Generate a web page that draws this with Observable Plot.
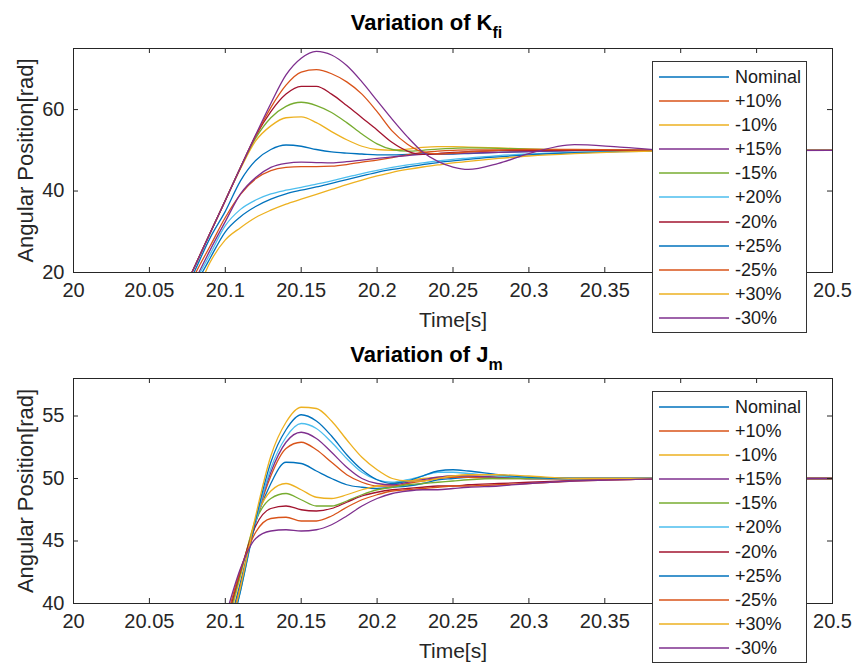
<!DOCTYPE html>
<html>
<head>
<meta charset="utf-8">
<script src="https://cdn.jsdelivr.net/npm/d3@7"></script>
<script src="https://cdn.jsdelivr.net/npm/@observablehq/plot@0.6"></script>
<style>
  html, body { margin: 0; padding: 0; background: #fff; }
  #wrap { position: relative; width: 853px; height: 663px; overflow: hidden; font-family: "Liberation Sans", Arial, Helvetica, sans-serif; }
  .panel { position: absolute; left: 0; }
  .panel svg { overflow: visible; }
  .title { position: absolute; left: 0; width: 853px; text-align: center; font-weight: bold; font-size: 22px; line-height: 22px; color: #000; white-space: nowrap; }
  .title .sub { font-size: 16px; position: relative; top: 8px; }
  .legend { position: absolute; box-sizing: border-box; background: #fff; border: 1px solid #333; padding-top: 3px; }
  .legend .row { position: relative; height: 24.1px; }
  .legend svg { position: absolute; left: 5px; top: 0; }
  .legend span { position: absolute; left: 82px; top: 0; line-height: 24.1px; font-size: 18px; color: #1a1a1a; }
</style>
</head>
<body>
<div id="wrap"></div>
<script>
// ---------- data ----------
const seriesNames = ["Nominal", "+10%", "-10%", "+15%", "-15%", "+20%", "-20%", "+25%", "-25%", "+30%", "-30%"];
const seriesColors = ["#0072BD", "#D95319", "#EDB120", "#7E2F8E", "#77AC30", "#4DBEEE", "#A2142F", "#0072BD", "#D95319", "#EDB120", "#7E2F8E"];

const xTicks = [20, 20.05, 20.1, 20.15, 20.2, 20.25, 20.3, 20.35, 20.4, 20.45, 20.5];
// tick labels visible in the figure (20.4 and 20.45 sit behind the legend)
const xTickLabels = [20, 20.05, 20.1, 20.15, 20.2, 20.25, 20.3, 20.35, 20.5];
const kfiYTicks = [20, 40, 60];
const jmYTicks = [40, 45, 50, 55];

// Variation of K_fi
const kfiTime = [20.07, 20.08, 20.09, 20.1, 20.11, 20.12, 20.13, 20.14, 20.15, 20.16, 20.17, 20.18, 20.19, 20.2, 20.21, 20.22, 20.23, 20.24, 20.25, 20.26, 20.28, 20.3, 20.33, 20.36, 20.4, 20.45, 20.5];
const kfiNominal = [12.5, 20.5, 28.5, 35.0, 42.5, 47.5, 50.2, 51.3, 51.0, 50.2, 49.6, 49.3, 49.1, 48.9, 48.9, 49.0, 49.1, 49.1, 49.1, 49.2, 49.5, 49.7, 49.9, 50.0, 50.0, 50.0, 50.0];
const kfiPlus10 = [11, 19.5, 26.5, 33.5, 39.2, 43.0, 45.0, 45.8, 46.0, 46.0, 46.1, 46.5, 47.1, 47.6, 48.2, 48.9, 49.5, 49.8, 50.0, 50.1, 50.1, 50.1, 50.0, 50.0, 50.0, 50.0, 50.0];
const kfiMinus10 = [13.6, 21.6, 29.7, 37.7, 45.5, 52.3, 56.0, 58.0, 58.2, 56.8, 54.6, 52.6, 51.0, 50.2, 50.0, 50.3, 50.7, 50.9, 50.9, 50.8, 50.6, 50.3, 50.1, 50.0, 50.0, 50.0, 50.0];
const kfiPlus15 = [10, 18.0, 25.5, 32.5, 39.3, 43.3, 45.8, 46.8, 47.1, 47.0, 46.9, 47.2, 47.6, 48.0, 48.4, 48.7, 49.0, 49.1, 49.2, 49.3, 49.5, 49.7, 49.9, 50.0, 50.0, 50.0, 50.0];
const kfiMinus15 = [13.6, 21.6, 29.7, 37.7, 45.8, 53.0, 58.0, 60.8, 61.8, 61.0, 59.3, 56.8, 54.0, 51.6, 50.2, 49.8, 50.0, 50.3, 50.5, 50.6, 50.5, 50.3, 50.1, 50.0, 50.0, 50.0, 50.0];
const kfiPlus20 = [9, 17.5, 24.5, 31.5, 35.5, 37.8, 39.3, 40.2, 40.9, 41.7, 42.5, 43.4, 44.3, 45.1, 45.8, 46.4, 46.9, 47.4, 47.8, 48.1, 48.7, 49.1, 49.5, 49.8, 50.0, 50.0, 50.0];
const kfiMinus20 = [13.6, 21.6, 29.7, 37.7, 45.8, 53.5, 59.5, 63.8, 65.7, 65.7, 63.8, 61.0, 58.0, 55.0, 51.9, 49.8, 49.0, 49.2, 49.5, 49.7, 49.9, 50.0, 50.0, 50.0, 50.0, 50.0, 50.0];
const kfiPlus25 = [8, 16.5, 23.5, 30.0, 33.7, 36.2, 38.0, 39.3, 40.2, 41.0, 41.9, 42.8, 43.7, 44.6, 45.3, 45.9, 46.5, 47.0, 47.4, 47.8, 48.4, 48.9, 49.4, 49.7, 49.9, 50.0, 50.0];
const kfiMinus25 = [13.6, 21.6, 29.7, 37.7, 45.8, 53.6, 60.5, 66.0, 69.2, 69.8, 68.8, 66.8, 63.8, 59.5, 54.7, 51.5, 49.6, 49.1, 49.3, 49.6, 50.0, 50.2, 50.2, 50.1, 50.0, 50.0, 50.0];
const kfiPlus30 = [5, 14, 22.5, 28.0, 31.0, 33.5, 35.3, 36.8, 38.0, 39.2, 40.4, 41.6, 42.7, 43.7, 44.6, 45.3, 45.9, 46.4, 46.9, 47.3, 48.0, 48.6, 49.2, 49.6, 49.9, 50.0, 50.0];
const kfiMinus30 = [13.6, 21.6, 29.7, 37.7, 45.8, 53.8, 61.5, 68.5, 72.6, 74.3, 73.4, 70.8, 66.8, 62.2, 57.6, 53.3, 49.6, 47.3, 45.9, 45.3, 46.8, 49.2, 51.4, 50.8, 49.9, 49.9, 50.0];

// Variation of J_m
const jmTime = [20.09, 20.1, 20.11, 20.12, 20.13, 20.14, 20.15, 20.16, 20.17, 20.18, 20.19, 20.2, 20.21, 20.22, 20.23, 20.24, 20.25, 20.26, 20.28, 20.3, 20.33, 20.36, 20.4, 20.45, 20.5];
const jmNominal = [32.5, 37.0, 41.7, 46.5, 49.6, 51.3, 51.2, 50.6, 50.0, 49.5, 49.3, 49.2, 49.3, 49.4, 49.6, 49.9, 50.0, 50.1, 50.1, 50.0, 50.0, 50.0, 50.0, 50.0, 50.0];
const jmPlus10 = [32.2, 36.7, 41.4, 46.5, 50.2, 52.4, 52.9, 52.3, 51.3, 50.3, 49.7, 49.4, 49.4, 49.6, 49.8, 50.0, 50.1, 50.1, 50.0, 50.0, 50.0, 50.0, 50.0, 50.0, 50.0];
const jmMinus10 = [33, 37.5, 42.2, 46.8, 49.0, 49.6, 49.1, 48.5, 48.4, 48.7, 49.1, 49.4, 49.6, 49.8, 50.0, 50.1, 50.2, 50.2, 50.1, 50.0, 50.0, 50.0, 50.0, 50.0, 50.0];
const jmPlus15 = [32, 36.5, 41.2, 46.6, 50.5, 52.9, 53.7, 53.2, 52.1, 50.9, 50.0, 49.6, 49.5, 49.7, 49.9, 50.1, 50.2, 50.2, 50.1, 50.0, 50.0, 50.0, 50.0, 50.0, 50.0];
const jmMinus15 = [33.3, 37.8, 42.4, 46.6, 48.4, 48.8, 48.3, 47.8, 47.8, 48.2, 48.7, 49.1, 49.3, 49.5, 49.6, 49.7, 49.8, 49.9, 50.0, 50.0, 50.0, 50.0, 50.0, 50.0, 50.0];
const jmPlus20 = [31.8, 36.3, 41.0, 46.5, 50.8, 53.3, 54.4, 54.0, 52.9, 51.6, 50.5, 49.9, 49.7, 49.9, 50.2, 50.5, 50.5, 50.4, 50.2, 50.1, 50.0, 50.0, 50.0, 50.0, 50.0];
const jmMinus20 = [33.6, 38.1, 42.6, 46.2, 47.6, 47.8, 47.5, 47.4, 47.6, 48.1, 48.6, 48.9, 49.1, 49.2, 49.3, 49.4, 49.4, 49.5, 49.6, 49.7, 49.85, 49.95, 50.0, 50.0, 50.0];
const jmPlus25 = [31.5, 36.2, 41.0, 46.7, 51.3, 53.9, 55.1, 54.6, 53.4, 51.9, 50.7, 49.9, 49.6, 49.8, 50.2, 50.6, 50.7, 50.6, 50.3, 50.1, 50.0, 50.0, 50.0, 50.0, 50.0];
const jmMinus25 = [34, 38.4, 42.7, 45.7, 46.8, 46.9, 46.6, 46.6, 47.0, 47.7, 48.3, 48.7, 49.0, 49.1, 49.2, 49.3, 49.4, 49.4, 49.5, 49.6, 49.8, 49.9, 50.0, 50.0, 50.0];
const jmPlus30 = [32, 36.5, 41.3, 47.0, 51.8, 54.5, 55.7, 55.6, 54.6, 53.1, 51.7, 50.7, 50.0, 49.8, 49.8, 50.0, 50.2, 50.3, 50.3, 50.2, 50.0, 50.0, 50.0, 50.0, 50.0];
const jmMinus30 = [34.5, 38.9, 42.8, 45.2, 45.8, 45.9, 45.8, 45.9, 46.3, 47.0, 47.8, 48.4, 48.8, 49.0, 49.1, 49.1, 49.2, 49.3, 49.4, 49.6, 49.8, 49.9, 50.0, 50.0, 50.0];

const kfiSeries = [kfiNominal, kfiPlus10, kfiMinus10, kfiPlus15, kfiMinus15, kfiPlus20, kfiMinus20, kfiPlus25, kfiMinus25, kfiPlus30, kfiMinus30];
const jmSeries = [jmNominal, jmPlus10, jmMinus10, jmPlus15, jmMinus15, jmPlus20, jmMinus20, jmPlus25, jmMinus25, jmPlus30, jmMinus30];

// ---------- drawing ----------
const FONT = '"Liberation Sans", Arial, Helvetica, sans-serif';
const INK = "#262626";
const wrap = document.getElementById("wrap");

function panel({time, series, yDomain, yTicks, top, height, marginTop, marginBottom}) {
  const marginLeft = 73, marginRight = 21, width = 853;
  const fh = height - marginTop - marginBottom;
  const fw = width - marginLeft - marginRight;
  const lines = series.map((vals, i) =>
    Plot.line(time.map((t, j) => ({t, v: vals[j]})), {
      x: "t", y: "v", stroke: seriesColors[i], strokeWidth: 1.3, curve: "monotone-x", clip: true
    })
  );
  const fmt = d => String(Math.round(d * 100) / 100);
  const svg = Plot.plot({
    width, height, marginLeft, marginRight, marginTop, marginBottom,
    style: {fontFamily: FONT, fontSize: "20px", color: INK, background: "transparent"},
    x: {domain: [20, 20.5]},
    y: {domain: yDomain},
    marks: [
      Plot.axisX(xTickLabels, {tickSize: 0, tickPadding: 10, tickFormat: fmt, fontSize: 20, label: null, fill: INK}),
      Plot.axisY(yTicks, {tickSize: 0, tickPadding: 9, tickFormat: fmt, fontSize: 20, label: null, fill: INK}),
      ...lines,
      Plot.tickX(xTicks, {x: d => d, insetTop: fh - 5, stroke: INK}),
      Plot.tickX(xTicks, {x: d => d, insetBottom: fh - 5, stroke: INK}),
      Plot.tickY(yTicks, {y: d => d, insetRight: fw - 5, stroke: INK}),
      Plot.tickY(yTicks, {y: d => d, insetLeft: fw - 5, stroke: INK}),
      Plot.frame({stroke: INK, strokeWidth: 1}),
      Plot.text(["Time[s]"], {frameAnchor: "bottom", dy: 54, fontSize: 21, fill: INK, textAnchor: "middle"}),
      Plot.text(["Angular Position[rad]"], {frameAnchor: "left", dx: -48, rotate: -90, fontSize: 22, fill: INK, textAnchor: "middle"})
    ]
  });
  const div = document.createElement("div");
  div.className = "panel";
  div.style.top = top + "px";
  div.appendChild(svg);
  wrap.appendChild(div);
}

function title(main, sub, top) {
  const d = document.createElement("div");
  d.className = "title";
  d.style.top = top + "px";
  d.innerHTML = main + '<span class="sub">' + sub + '</span>';
  wrap.appendChild(d);
}

function legend(top) {
  const box = document.createElement("div");
  box.className = "legend";
  box.style.left = "652px";
  box.style.top = top + "px";
  box.style.width = "155px";
  box.style.height = "272px";
  seriesNames.forEach((name, i) => {
    const row = document.createElement("div");
    row.className = "row";
    row.innerHTML = '<svg width="72" height="24"><line x1="1" x2="71" y1="12" y2="12" stroke="' + seriesColors[i] + '" stroke-width="1.3"/></svg><span>' + name + '</span>';
    box.appendChild(row);
  });
  wrap.appendChild(box);
}

panel({time: kfiTime, series: kfiSeries, yDomain: [20, 75], yTicks: kfiYTicks, top: 0, height: 340, marginTop: 48, marginBottom: 68});
panel({time: jmTime, series: jmSeries, yDomain: [40, 58], yTicks: jmYTicks, top: 330, height: 333, marginTop: 48, marginBottom: 60});
title("Variation of K", "fi", 12);
title("Variation of J", "m", 344);
legend(61);
legend(391);
</script>
</body>
</html>
